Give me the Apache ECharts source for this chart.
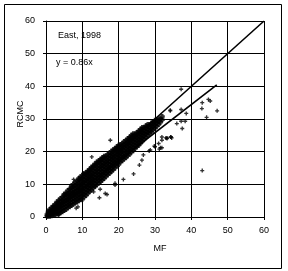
<!DOCTYPE html>
<html><head><meta charset="utf-8">
<script src="https://cdn.jsdelivr.net/npm/echarts@6/dist/echarts.min.js"></script>
<style>html,body{margin:0;padding:0;background:#fff}#c{width:288px;height:271px}</style>
</head><body><div id="c"></div>
<script>
// Axis ticks
const xTicks = [0, 10, 20, 30, 40, 50, 60];
const yTicks = [0, 10, 20, 30, 40, 50, 60];
// Dense cloud: MF column positions and RCMC values in each column
const cloudMF = [0.3,0.6,1,1.5,2,2.5,3,3.5,4,4.5,5,5.5,6,6.5,7,7.5,8,8.5,9,9.5,10,10.5,11,11.5,12,12.5,13,13.5,14,14.5,15,15.5,16,16.5,17,17.5,18,18.5,19,19.5,20,20.5,21,21.5,22,22.5,23,23.5,24,24.5,25,25.5,26,26.5,27,27.5,28,28.5,29,29.5,30,30.5,31,31.5,32];
const cloudRCMC = [
 [0.2,0.8],[0.3,1.0,1.6],[0.2,0.9,1.7,2.3],[0.4,1.2,2.0,2.8],[0.5,1.3,2.1,2.9,3.4],
 [0.7,1.5,2.3,3.1,3.9],[0.9,1.7,2.5,3.3,4.1,4.6],[1.0,1.9,2.8,3.6,4.4,5.1],[1.3,2.2,3.1,4.0,4.9,5.7],
 [1.6,2.5,3.4,4.3,5.2,6.1],[2.0,2.9,3.8,4.7,5.6,6.5,7.0],[2.3,3.2,4.1,5.0,5.9,6.8,7.4],
 [2.8,3.7,4.6,5.5,6.4,7.3,8.1],[3.1,4.0,4.9,5.8,6.7,7.6,8.6],[3.5,4.4,5.3,6.2,7.1,8.0,8.9,9.5],
 [3.9,4.8,5.7,6.6,7.5,8.4,9.3,10.0],[4.3,5.2,6.1,7.0,7.9,8.8,9.7,10.6],[4.6,5.5,6.4,7.3,8.2,9.1,10.0,11.0],
 [5.0,5.9,6.8,7.7,8.6,9.5,10.4,11.3,11.8],[5.3,6.2,7.1,8.0,8.9,9.8,10.7,11.6,12.3],
 [5.4,6.5,7.4,8.3,9.2,10.1,11.0,11.9,12.7],[6.1,7.0,7.9,8.8,9.7,10.6,11.5,12.4,13.2],
 [6.6,7.5,8.4,9.3,10.2,11.1,12.0,12.9,13.6],[7.2,8.1,9.0,9.9,10.8,11.7,12.6,13.5,14.1],
 [7.8,8.7,9.6,10.5,11.4,12.3,13.2,14.1,14.6],[8.3,9.2,10.1,11.0,11.9,12.8,13.7,14.6,15.2],
 [8.9,9.8,10.7,11.6,12.5,13.4,14.3,15.2,15.7],[9.4,10.3,11.2,12.1,13.0,13.9,14.8,15.7,16.3],
 [9.9,10.8,11.7,12.6,13.5,14.4,15.3,16.2,16.8],[10.4,11.3,12.2,13.1,14.0,14.9,15.8,16.7,17.2],
 [10.8,11.7,12.6,13.5,14.4,15.3,16.2,17.1,17.7],[11.3,12.2,13.1,14.0,14.9,15.8,16.7,17.6,18.1],
 [11.8,12.7,13.6,14.5,15.4,16.3,17.2,18.1,18.6],[12.4,13.3,14.2,15.1,16.0,16.9,17.8,18.7],
 [12.9,13.8,14.7,15.6,16.5,17.4,18.3,19.2],[13.4,14.3,15.2,16.1,17.0,17.9,18.8,19.6],
 [13.9,14.8,15.7,16.6,17.5,18.4,19.3,20.1],[14.5,15.4,16.3,17.2,18.1,19.0,19.9,20.6],
 [15.0,15.9,16.8,17.7,18.6,19.5,20.4,21.0],[15.6,16.5,17.4,18.3,19.2,20.1,21.0,21.5],
 [16.1,17.0,17.9,18.8,19.7,20.6,21.4,22.0],[16.8,17.7,18.6,19.5,20.4,21.3,22.2],
 [17.2,18.1,19.0,19.9,20.8,21.7,22.5],[17.8,18.7,19.6,20.5,21.4,22.3,23.1],
 [18.1,19.0,19.9,20.8,21.7,22.6,23.4],[18.8,19.7,20.6,21.5,22.4,23.3,24.0],
 [19.2,20.1,21.0,21.9,22.8,23.7,24.4],[19.9,20.8,21.7,22.6,23.5,24.4,25.0],
 [20.3,21.2,22.1,23.0,23.9,24.8,25.5],[21.0,21.9,22.8,23.7,24.6,25.4],
 [21.5,22.4,23.3,24.2,25.1,25.9],[22.0,22.9,23.8,24.7,25.6,26.3],
 [22.6,23.5,24.4,25.3,26.2,26.9],[23.2,24.1,25.0,25.9,26.8,27.4],
 [23.8,24.7,25.6,26.5,27.4],[24.4,25.3,26.2,27.1,27.9],[25.0,25.9,26.8,27.7,28.3],
 [25.6,26.5,27.4,28.2],[26.0,26.9,27.8,28.7],[26.7,27.6,28.5,29.2],[27.2,28.1,29.0,29.6],
 [27.8,28.7,29.6],[28.3,29.2,30.1],[29.0,30.0],[29.8,30.8]
];
// Scattered points outside the dense band
const outlierMF   = [3.5,8.3,8.8,13.1,13.6,14.7,14.9,16.3,16.8,19.0,19.0,21.3,24.1,25.7,26.4,26.8,28.4,28.7,29.8,30.0,31.0,31.5,31.9,31.9,33.0,33.3,34.4,34.6,43.0,
                     7.6,10.3,12.6,17.7,19.0,
                     37.2,34.2,43.0,44.7,45.2,42.9,47.1,44.2,34.2,37.2,38.6,37.2,38.3,36.0,37.5,34.3,33.3,31.9,31.2];
const outlierRCMC = [0.6,2.7,3.1,7.7,9.3,5.9,8.5,7.2,6.9,9.8,10.3,11.5,13.2,15.9,17.4,19.0,20.2,20.5,21.7,21.5,22.5,21.2,21.2,24.5,24.2,24.2,24.5,24.2,14.2,
                     11.5,13.4,18.4,23.5,20.5,
                     39.1,32.7,35.0,36.0,35.5,33.2,32.5,30.5,32.5,32.9,31.7,29.3,29.3,28.6,27.1,24.5,24.0,23.5,20.8];
// Reference lines
const line1MF = [0, 60], line1RCMC = [0, 60];
const line2MF = [0, 47], line2RCMC = [0, 40.42];

const cloudPts = [];
cloudMF.forEach((x, i) => cloudRCMC[i].forEach(y => cloudPts.push([x, y])));
const outPts = outlierMF.map((x, i) => [x, outlierRCMC[i]]);

const font = 'Arial, "Liberation Sans", sans-serif';
const chart = echarts.init(document.getElementById('c'), null, {renderer: 'canvas'});
const axisCommon = {
  type: 'value', min: 0, max: 60, interval: 10,
  nameMoveOverlap: false,
  axisLine: {show: true, lineStyle: {color: '#000', width: 1}},
  axisTick: {show: true, inside: false, length: 3, lineStyle: {color: '#000'}},
  splitLine: {show: true, lineStyle: {color: '#000', width: 1}}
};
const marker = 'path://M1,0H2V1H3V2H2V3H1V2H0V1H1Z';
chart.setOption({
  animation: false,
  backgroundColor: '#fff',
  grid: {left: 46, right: 24, top: 21, bottom: 54, containLabel: false, outerBoundsMode: 'none'},
  xAxis: Object.assign({}, axisCommon, {
    name: 'MF', nameLocation: 'middle', nameGap: 27,
    nameTextStyle: {color: '#000', fontSize: 9, fontFamily: font, padding: [0, 0, 0, 10]},
    axisLabel: {color: '#000', fontSize: 9, fontFamily: font, margin: 9,
      formatter: v => xTicks.includes(v) ? String(v) : ''}
  }),
  yAxis: Object.assign({}, axisCommon, {
    name: 'RCMC', nameLocation: 'middle', nameGap: 21,
    nameTextStyle: {color: '#000', fontSize: 9, fontFamily: font, padding: [0, 0, 0, 10]},
    axisLabel: {color: '#000', fontSize: 9, fontFamily: font, margin: 11,
      formatter: v => yTicks.includes(v) ? String(v) : ''}
  }),
  graphic: [
    {type: 'rect', shape: {x: 4.5, y: 4.5, width: 277, height: 264}, style: {fill: null, stroke: '#000', lineWidth: 1}, silent: true},
    {type: 'text', left: 58, top: 31, style: {text: 'East, 1998', fill: '#000', font: '9px ' + font}},
    {type: 'text', left: 56, top: 58, style: {text: 'y = 0.86x', fill: '#000', font: '9px ' + font}}
  ],
  series: [
    {type: 'scatter', data: cloudPts, symbol: 'path://M1,0H3V1H4V3H3V4H1V3H0V1H1Z', symbolSize: [5, 5],
     itemStyle: {color: '#000'}, silent: true, z: 2},
    {type: 'scatter', data: outPts, symbol: marker, symbolSize: [4, 4],
     itemStyle: {color: '#000'}, silent: true, z: 2},
    {type: 'line', data: line1MF.map((x, i) => [x, line1RCMC[i]]), symbol: 'none',
     lineStyle: {color: '#000', width: 1.6}, silent: true, z: 3},
    {type: 'line', data: line2MF.map((x, i) => [x, line2RCMC[i]]), symbol: 'none',
     lineStyle: {color: '#000', width: 1.6}, silent: true, z: 3}
  ]
});
</script></body></html>
